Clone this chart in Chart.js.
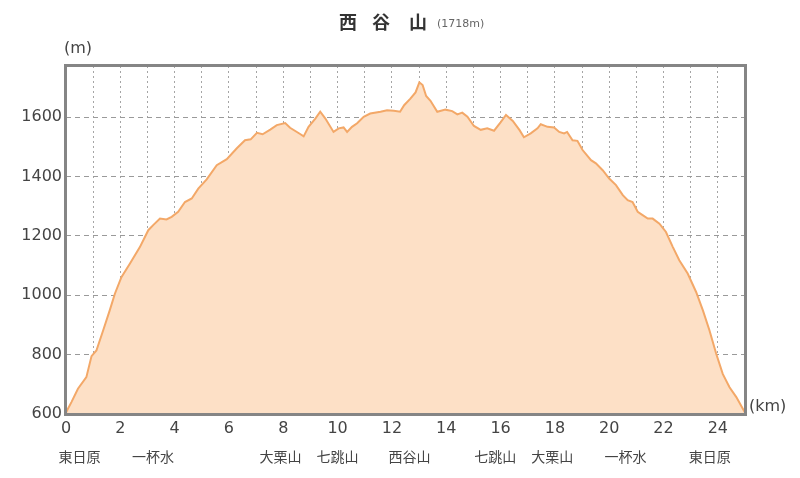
<!DOCTYPE html>
<html><head><meta charset="utf-8">
<script src="https://cdn.jsdelivr.net/npm/chart.js@4/dist/chart.umd.min.js"></script>
<style>html,body{margin:0;padding:0;background:#fff}#wrap{width:800px;height:478px}</style>
</head><body><div id="wrap"><canvas id="c" width="800" height="478"></canvas></div>
<script>
const distanceKm = [0,0.2,0.44,0.75,0.94,1.12,1.37,1.61,1.8,2.04,2.35,2.72,3.03,3.21,3.46,3.7,3.89,4.13,4.38,4.63,4.87,5.18,5.55,5.92,6.29,6.59,6.8,7.03,7.24,7.52,7.76,8.07,8.25,8.62,8.75,8.93,9.18,9.36,9.55,9.85,10.04,10.22,10.35,10.53,10.72,10.96,11.2,11.58,11.82,12.07,12.3,12.45,12.68,12.87,13.01,13.13,13.26,13.42,13.67,13.97,14.22,14.41,14.59,14.78,15.02,15.27,15.51,15.76,16.0,16.2,16.45,16.7,16.86,17.11,17.36,17.48,17.73,17.97,18.16,18.34,18.45,18.65,18.83,19.02,19.33,19.51,19.76,20.0,20.25,20.5,20.68,20.86,21.05,21.23,21.42,21.6,21.85,22.09,22.34,22.58,22.89,23.2,23.45,23.69,23.94,24.18,24.43,24.68,24.92,25.0];
const elevationM = [605,640,685,724,795,814,882,949,1005,1061,1106,1162,1219,1236,1258,1255,1264,1281,1314,1326,1359,1390,1438,1458,1495,1522,1525,1547,1542,1558,1573,1580,1564,1543,1535,1567,1595,1618,1595,1550,1562,1565,1550,1567,1579,1601,1612,1618,1623,1621,1618,1640,1662,1683,1717,1708,1671,1655,1618,1625,1620,1609,1615,1601,1570,1557,1562,1554,1582,1607,1587,1556,1532,1545,1562,1576,1567,1565,1550,1545,1550,1522,1520,1489,1455,1444,1421,1393,1371,1337,1320,1314,1281,1270,1258,1258,1241,1213,1163,1118,1073,1011,949,882,803,735,690,657,618,605];
const yTicks = [600,800,1000,1200,1400,1600];
const xTicks = [0,1,2,3,4,5,6,7,8,9,10,11,12,13,14,15,16,17,18,19,20,21,22,23,24,25];
const placeNames = ["東日原","一杯水","大栗山","七跳山","西谷山","七跳山","大栗山","一杯水","東日原"];
const placeKm = [0.5,3.2,7.9,10.0,12.65,15.8,17.9,20.6,23.7];
const titleChars = ["西","谷","山"];
const titleSub = "(1718m)";
const yUnit = "(m)";
const xUnit = "(km)";

const points = distanceKm.map((d,i)=>({x:d,y:elevationM[i]}));

const decor = {
  id:'decor',
  afterDraw(chart){
    const ctx = chart.ctx, a = chart.chartArea, xs = chart.scales.x;
    ctx.save();
    ctx.strokeStyle = '#858585'; ctx.lineWidth = 3;
    ctx.strokeRect(a.left-0.5, a.top-0.5, a.right-a.left+1, a.bottom-a.top+1);
    ctx.fillStyle = '#333';
    ctx.font = 'bold 18px "Noto Sans CJK JP"';
    ctx.textAlign = 'center'; ctx.textBaseline = 'middle';
    const tx = [348, 381, 418];
    titleChars.forEach((c,i)=>ctx.fillText(c, tx[i], 22));
    ctx.font = '11px "DejaVu Sans"'; ctx.fillStyle = '#666'; ctx.textAlign='left';
    ctx.fillText(titleSub, 437, 24);
    ctx.font = '16px "DejaVu Sans"'; ctx.fillStyle = '#444';
    ctx.textAlign = 'center';
    ctx.fillText(yUnit, 78, 49);
    ctx.textAlign = 'left';
    ctx.fillText(xUnit, 749, 407);
    ctx.font = '14px "Noto Sans CJK JP"'; ctx.fillStyle = '#444'; ctx.textAlign='center';
    placeNames.forEach((n,i)=>ctx.fillText(n, xs.getPixelForValue(placeKm[i]), 457));
    ctx.restore();
  }
};

new Chart(document.getElementById('c'), {
  type:'line',
  data:{datasets:[{data:points, borderColor:'#f3a868', borderWidth:2, backgroundColor:'#fde0c6', fill:'start', pointRadius:0, tension:0}]},
  options:{
    responsive:false, animation:false,
    layout:{padding:{left:0,right:55,top:66,bottom:0}},
    plugins:{legend:{display:false}, title:{display:false}, tooltip:{enabled:false}},
    scales:{
      x:{type:'linear', min:0, max:25,
        afterFit(s){ s.height = 64; },
        afterBuildTicks(s){ s.ticks = xTicks.map(v=>({value:v})); },
        ticks:{autoSkip:false, maxRotation:0, padding:5, color:'#444', font:{family:'DejaVu Sans', size:16},
          callback:v=> (v%2===0 && v<25 ? String(v) : '')},
        grid:{color:'#a5a5a5', lineWidth:1, drawTicks:false},
        border:{display:false, dash:[2,3]}
      },
      y:{min:600, max:1772,
        afterFit(s){ s.width = 66; },
        afterBuildTicks(s){ s.ticks = yTicks.map(v=>({value:v})); },
        ticks:{padding:4, color:'#444', font:{family:'DejaVu Sans', size:16}, callback:v=>String(v)},
        grid:{color:'#9a9a9a', lineWidth:1, drawTicks:false},
        border:{display:false, dash:[5,4]}
      }
    }
  },
  plugins:[decor]
});
</script></body></html>
